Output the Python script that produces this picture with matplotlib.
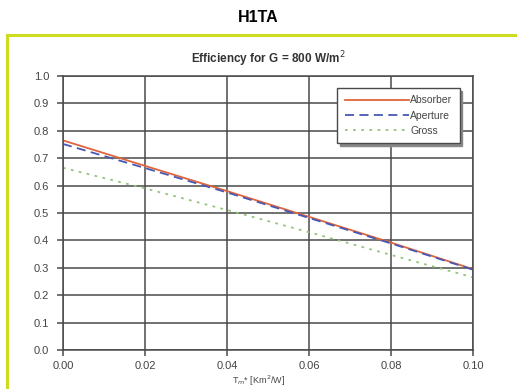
import matplotlib.pyplot as plt
from matplotlib.lines import Line2D

# values
tm = [0.00, 0.02, 0.04, 0.06, 0.08, 0.10]
absorber = [0.765, 0.672, 0.580, 0.486, 0.392, 0.295]
aperture = [0.752, 0.664, 0.575, 0.482, 0.389, 0.293]
gross = [0.665, 0.590, 0.511, 0.430, 0.347, 0.265]
xticks = [0.00, 0.02, 0.04, 0.06, 0.08, 0.10]
yticks = [0.0, 0.1, 0.2, 0.3, 0.4, 0.5, 0.6, 0.7, 0.8, 0.9, 1.0]

plt.rcParams['font.family'] = ['Liberation Sans', 'DejaVu Sans']

fig = plt.figure(figsize=(5.17, 3.89), dpi=100)

# yellow-green frame around the chart
lime = '#cddc1e'
fig.add_artist(Line2D([7/517, 1.0], [1-35/389, 1-35/389], color=lime, lw=2.2,
                      transform=fig.transFigure))
fig.add_artist(Line2D([7/517, 7/517], [0.0, 1-35/389], color=lime, lw=2.2,
                      transform=fig.transFigure))

fig.text(0.5, 1-18/389, 'H1TA', ha='center', va='center', fontsize=11.5,
         fontweight='bold', fontstretch='condensed')

ax = fig.add_axes([63/517, 39/389, 410/517, 274/389])

ax.plot(tm, absorber, color='#e0643c', lw=1.3, label='Absorber')
ax.plot(tm, aperture, color='#4658b4', lw=1.3, ls=(0, (5, 3)), label='Aperture')
ax.plot(tm, gross, color='#94c47a', lw=1.3, ls=(0, (1.5, 3)), label='Gross')

ax.set_xlim(0, 0.10)
ax.set_ylim(0, 1.0)
ax.set_xticks(xticks)
ax.set_xticklabels(['%.2f' % v for v in xticks])
ax.set_yticks(yticks)
ax.set_yticklabels(['%.1f' % v for v in yticks])
ax.grid(True, color='#4a4a4a', lw=1.1)
ax.set_axisbelow(True)
for s in ax.spines.values():
    s.set_color('#4a4a4a')
    s.set_linewidth(1.1)
ax.tick_params(direction='out', length=4, width=1.1, color='#4a4a4a',
               labelsize=8, labelcolor='#444444', pad=6)
ax.tick_params(axis='x', pad=4)

ax.set_title(r'Efficiency for G = 800 W/m$^2$', fontsize=8.5, fontweight='bold',
             color='#333333', pad=9)

leg = ax.legend(loc='upper right', bbox_to_anchor=(0.98, 0.975), fontsize=7.5,
                handlelength=6.2, handletextpad=0.1, frameon=True, fancybox=False,
                shadow={'color': '#888888', 'alpha': 1}, borderpad=0.7, labelspacing=0.5)
leg.get_frame().set_edgecolor('#4a4a4a')
leg.get_frame().set_linewidth(1.0)
for t in leg.get_texts():
    t.set_color('#444444')

fig.text(0.5, 1/389, r'T$_m$* [Km$^2$/W]', ha='center', va='bottom', fontsize=6.5,
         color='#444444')

fig.savefig('out.png', dpi=100)
